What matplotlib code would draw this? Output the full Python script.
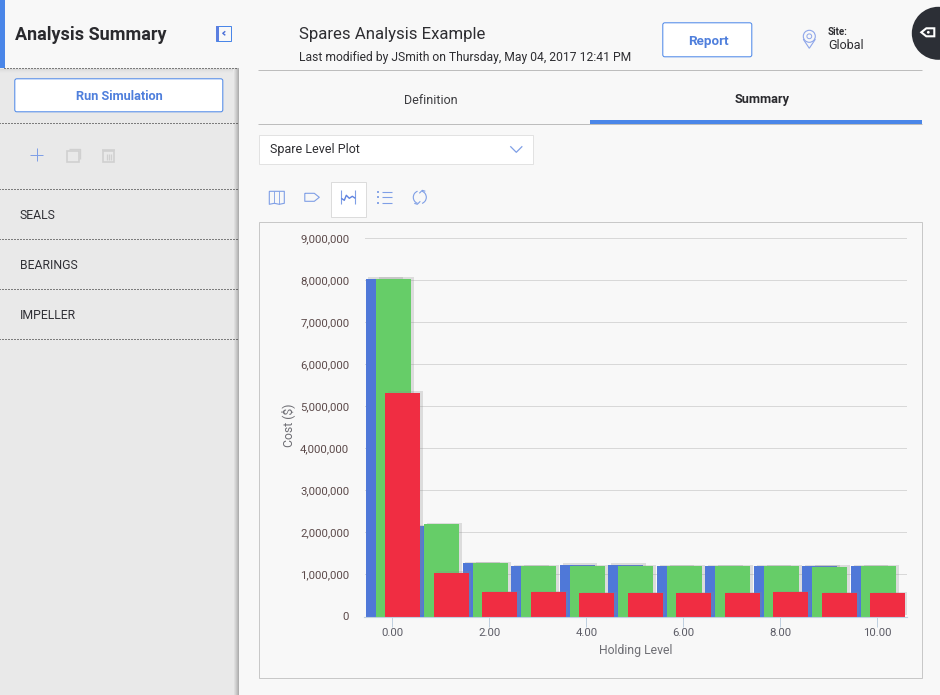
import matplotlib
matplotlib.use("Agg")
import matplotlib.pyplot as plt
import matplotlib.patheffects as pe
from matplotlib.patches import Rectangle, FancyBboxPatch, Circle, Polygon, Arc
from matplotlib.ticker import FuncFormatter

plt.rcParams['font.family'] = ['Roboto', 'DejaVu Sans']

holding_levels = [0, 1, 2, 3, 4, 5, 6, 7, 8, 9, 10]
blue_costs = [8030000, 2150000, 1270000, 1200000, 1230000, 1230000, 1200000, 1200000, 1200000, 1200000, 1200000]
green_costs = [8030000, 2200000, 1270000, 1200000, 1200000, 1200000, 1200000, 1200000, 1200000, 1180000, 1200000]
red_costs = [5320000, 1040000, 580000, 580000, 560000, 550000, 560000, 560000, 580000, 560000, 560000]
x_ticks = [0, 2, 4, 6, 8, 10]
y_ticks = list(range(0, 9000001, 1000000))
sidebar_items = ["SEALS", "BEARINGS", "IMPELLER"]

W, H = 940, 695
BG = '#f8f8f8'
BLUE = '#4a86e8'
INK = '#2a2a2e'
PX = 0.72
SHIFT = 0.7

fig = plt.figure(figsize=(W / 100, H / 100), dpi=100, facecolor=BG)

# Page chrome, in pixel coordinates
ui = fig.add_axes([0, 0, 1, 1], zorder=0)
ui.set_xlim(SHIFT, W + SHIFT)
ui.set_ylim(H + SHIFT, SHIFT)
ui.axis('off')


def rect(x0, y0, x1, y1, fc='none', ec='none', lw=0.0, z=1):
    ui.add_patch(Rectangle((x0, y0), x1 - x0, y1 - y0, fc=fc, ec=ec, lw=lw, zorder=z))


def button(x0, y0, x1, y1, ec, lw=PX):
    ui.add_patch(FancyBboxPatch((x0 + 2.5, y0 + 2.5), x1 - x0 - 5, y1 - y0 - 5,
                                boxstyle='round,pad=2,rounding_size=2',
                                fc='white', ec=ec, lw=lw, zorder=3))


def line(xs, ys, color, lw=0.8, z=4, **kw):
    ui.plot(xs, ys, color=color, lw=lw, zorder=z, solid_capstyle='butt', **kw)


def text(x, y, s, size, color=INK, weight='normal', ha='left'):
    ui.text(x + SHIFT, y + 2 + SHIFT, s, fontsize=size, color=color, fontweight=weight,
            ha=ha, va='center', zorder=5)


# Sidebar
rect(0, 69, 238.7, H + 1, fc='#e9e9e9')
for i, c in enumerate(['#dedede', '#d4d4d4', '#c8c8c8', '#bcbcbc', '#aeaeae']):
    rect(234.2 + i, 69, 235.2 + i, H + 1, fc=c, z=1.5)
for i, c in enumerate(['#dadada', '#e0e0e0', '#e4e4e4', '#e7e7e7']):
    rect(0, 70 + i, 234, 71 + i, fc=c, z=1.5)
rect(0, 0, 5.7, 69, fc=BLUE, z=2)
for y in [68.5, 123.5, 189.5, 239.5, 289.5, 339.5]:
    line([5 if y < 69 else 0, 238.7], [y, y], '#111111', lw=PX, linestyle=(0, (1, 2)))
text(15, 32.5, "Analysis Summary", 13.0, weight='bold')
rect(216.5, 26.5, 231.5, 41.5, fc=BG, ec=BLUE, lw=PX, z=3)
rect(216.5, 26.5, 219.5, 41.5, fc='#5b7fe0', z=3.5)
line([226, 223.5, 226], [32, 34, 36], '#4a6fd8', lw=1.0)
button(15, 79, 224, 113, BLUE)
text(119.5, 94.5, "Run Simulation", 9.2, color='#4f7fdc', weight='bold', ha='center')
line([31, 44], [155.5, 155.5], '#7f9fe6', lw=PX)
line([37.5, 37.5], [149, 162], '#7f9fe6', lw=PX)
rect(67.5, 151.5, 79.5, 162.5, ec='#d0d0d0', lw=1.2, z=3)
line([70, 81, 81], [149.5, 149.5, 160], '#d0d0d0', lw=1.0)
rect(104, 152, 115, 162.5, ec='#d0d0d0', lw=1.2, z=3)
line([103, 116], [150.5, 150.5], '#d0d0d0', lw=1.2)
for xv in (107.5, 109.5, 111.5):
    line([xv, xv], [155, 161], '#d0d0d0', lw=0.9)
for item, y in zip(sidebar_items, [214, 264, 314]):
    text(20, y, item, 8.8, color='#303036')

# Header
text(299, 32.5, "Spares Analysis Example", 12.1, color='#2e2e32')
text(299, 56, "Last modified by JSmith on Thursday, May 04, 2017 12:41 PM", 8.75, color='#2e2e32')
button(663, 23, 753, 58, BLUE)
text(708, 39, "Report", 9.6, color='#4f7fdc', weight='bold', ha='center')
ui.add_patch(Polygon([[804, 40], [810, 49], [816, 40]], fc='none', ec='#8ea6ea', lw=0.8, zorder=4))
ui.add_patch(Circle((810, 37), 6, fc=BG, ec='#8ea6ea', lw=0.8, zorder=4.5))
ui.add_patch(Circle((810, 37), 2.4, fc=BG, ec='#8ea6ea', lw=0.7, zorder=4.6))
text(828, 30, "Site:", 7.0, color='#2e2e32', weight='bold')
text(828, 43.5, "Global", 9.0, color='#2e2e32')
ui.add_patch(Circle((939, 34), 26.5, fc='#2c2f36', ec='none', zorder=3))
ui.add_patch(Polygon([[922, 33], [927, 29], [935, 29], [935, 37], [927, 37]],
                     fc='none', ec='white', lw=1.5, zorder=4))
ui.add_patch(Circle((929, 33), 1.4, fc='white', ec='none', zorder=4))
line([259, 923], [70.5, 70.5], '#bdbdbd', lw=PX)

# Tabs
text(431, 98, "Definition", 9.0, color='#3c3c40', ha='center')
text(762.5, 98, "Summary", 9.2, color='#2a2a2e', weight='bold', ha='center')
line([259, 923], [124.5, 124.5], '#bdbdbd', lw=PX)
rect(591, 121, 923, 124.5, fc=BLUE, z=4)

# Selector
rect(259.5, 135.5, 533.5, 164.5, fc='white', ec='#e2e2e2', lw=PX, z=3)
text(270, 148, "Spare Level Plot", 9.0, color='#2e2e32')
line([511, 517, 523], [147, 153, 147], '#7f9fe6', lw=0.9)

# Toolbar icons
rect(331.5, 182.5, 366.5, 217.5, fc='white', ec='#dcdcdc', lw=PX, z=3)
ic = '#7f9fe6'
line([270, 270, 275, 280, 285, 285, 280, 275, 270], [192, 205, 204, 205, 204, 192, 192, 192, 192], ic, lw=0.8)
line([275, 275], [192, 204], ic, lw=0.6)
line([280, 280], [192, 205], ic, lw=0.6)
line([305.5, 315, 320, 315, 305.5, 305.5], [194, 194, 198, 202, 202, 194], ic, lw=0.8)
line([342, 342], [191, 205], ic, lw=0.8)
line([356, 356], [191, 205], ic, lw=0.8)
line([342, 345, 347, 350, 353, 356], [199, 201, 196, 199, 197, 199], '#5f83e0', lw=1.0)
for yy in (192.5, 198, 203.5):
    line([378, 380], [yy, yy], ic, lw=1.3)
    line([382.5, 392.5], [yy, yy], ic, lw=0.8)
ui.add_patch(Arc((420.5, 198), 13, 13, theta1=110, theta2=250, ec=ic, lw=0.8, zorder=4))
ui.add_patch(Arc((420.5, 198), 13, 13, theta1=290, theta2=70, ec=ic, lw=0.8, zorder=4))
line([415, 418, 421], [204, 205, 202], ic, lw=0.8)
line([420, 423, 426], [194, 191, 192], ic, lw=0.8)

# Chart panel
rect(259.5, 222.5, 922.5, 678.5, ec='#c8c8c8', lw=PX, z=2)

# Chart
left, right, top, bottom = 364.5, 907.0, 238.0, 616.5
ax = fig.add_axes([left / W, 1 - bottom / H, (right - left) / W, (bottom - top) / H], zorder=2)
ax.patch.set_alpha(0)
ax.set_xlim(-0.575, 10.61)
ax.set_ylim(0, 9000000)

bar_width = 0.72
shadow = [pe.SimplePatchShadow(offset=(2, 1), shadow_rgbFace='#8a8a8a', alpha=0.25), pe.Normal()]
series = [(blue_costs, -0.19, '#4f78d8', 3), (green_costs, 0.02, '#66cd68', 4), (red_costs, 0.21, '#f02d42', 5)]
for values, offset, color, z in series:
    bars = ax.bar([h + offset for h in holding_levels], values, width=bar_width, color=color,
                  linewidth=0, zorder=z)
    for b in bars:
        b.set_path_effects(shadow)

ax.set_xticks(x_ticks)
ax.xaxis.set_major_formatter(FuncFormatter(lambda v, _: f"{v:.2f}"))
ax.set_yticks(y_ticks)
ax.yaxis.set_major_formatter(FuncFormatter(lambda v, _: f"{int(v):,}"))
ax.grid(axis='y', color='#d8d8d8', lw=PX, zorder=1)
ax.set_axisbelow(True)
for name in ('top', 'right', 'left'):
    ax.spines[name].set_visible(False)
ax.spines['bottom'].set_color('#c0d0e0')
ax.spines['bottom'].set_linewidth(0.8)
ax.spines['bottom'].set_zorder(6)
ax.tick_params(axis='x', length=7, width=PX, color='#c0d0e0', labelsize=8.2, labelcolor='#5c5c66', pad=1)
ax.tick_params(axis='y', length=0, labelsize=8.2, labelcolor='#5c4a4a', pad=11)
ax.set_xlabel("Holding Level", fontsize=8.8, color='#6e6e74', labelpad=4.5)
ax.set_ylabel("Cost ($)", fontsize=8.8, color='#6e6e74', labelpad=3.5, y=0.505)

fig.savefig("out.png", dpi=100, facecolor=BG)
